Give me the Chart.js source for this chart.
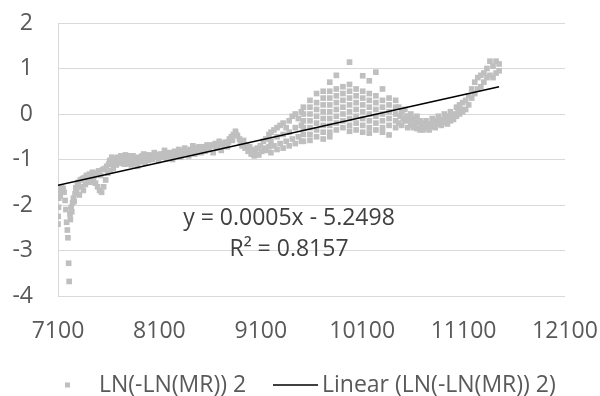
<!DOCTYPE html>
<html>
<head>
<meta charset="utf-8">
<script src="https://cdn.jsdelivr.net/npm/chart.js@4.4.1/dist/chart.umd.min.js"></script>
<style>
html, body { margin: 0; padding: 0; background: #fff; }
#wrap { width: 600px; height: 396px; }
</style>
</head>
<body>
<div id="wrap"><canvas id="mrChart" width="600" height="396"></canvas></div>
<script>
// axis ticks
var xTicks = [7100, 8100, 9100, 10100, 11100, 12100];
var yTicks = [-4, -3, -2, -1, 0, 1, 2];

// LN(-LN(MR)) 2 - single points
var xValues = [
	7100,7102,7105,7108,7112,7118,7122,7128,7135,7142,7150,7160,7170,7178,7185,7192,7198,7205,7210,7218,7222,7230,7236,7244,7252,7260,7268,7276,7284,7292,
	7300,7310,7320,7330,7340,7350,7360,7370,7380,7390,7400,7410,7420,7430,7440,7450,7460,7470,7480,7490,7500,7510,7520,7530,7540,7550,7560,7570,7580,7590,
	7600,7615,7630,7645,7660,7675,7690,7705,7720,7735,7750,7765,7780,7795,7810,7825,7840,7855,7870,7885,7900,7915,7930,7945,7960,7975,7990,
	7610,7630,7650,7670,7690,7710,7730,7750,7770,7790,7810,7830,7850,7870,7890,7910,7930,7950,7970,7990,
	8010,8030,8050,8070,8090,8110,8130,8150,8170,8190,8210,8230,8250,8270,8290,8310,8330,8350,8370,8390,8410,8430,8450,8470,8490,8510,8530,8550,8570,8590,8610,8630,8650,8670,8690,8710,8730,8750,8770,8790,8810,8830,8850,8870,8890,
	8020,8060,8100,8140,8180,8220,8260,8300,8340,8380,8420,8460,8500,8540,8580,8620,8660,8700,8740,8780,8820,8860,
	8900,8915,8930,8945,8960,8975,8990,9005,9020,9035,9050,9065,9080,9095,9110,9125,9140,
	9150,9150,9180,9180,9200,9200,9200,9230,9230,9260,9260,9260,9290,9290,9320,9320,9320,9350,9350,9380,9380,9380,9410,9410,9440,9440,9440,9470,9470,9500,9500,9500,
	10460,10460,10490,10490,10520,10520,10550,10550,10580,10580,10610,10610,10640,10640,10670,10670,10700,10700,10730,10730,10760,10760,10790,10790,10820,10820,10850,10850,10880,10880,10910,10910,10940,10940,10970,10970,11000,11000,11030,11030,11060,11060,11090,11090,
	10475,10505,10535,10565,10595,10625,10655,10685,10715,10745,10775,10805,10835,10865,10895,10925,10955,10985,11015,11045,11075,
	11120,11120,11150,11150,11180,11180,11210,11210,11240,11240,11270,11270,11300,11300,11330,11330,11360,11360,11390,11390,11420,11420,11450,11450
];
var yValues = [
	-2.42,-2.25,-2.05,-1.85,-1.72,-1.62,-1.8,-1.68,-1.6,-1.7,-1.64,-1.72,-1.9,-2.1,-2.38,-2.55,-2.72,-3.28,-3.68,-2.2,-2.32,-2.05,-2.15,-1.95,-1.85,-1.92,-1.75,-1.62,-1.7,-1.55,
	-1.5,-1.78,-1.45,-1.6,-1.42,-1.68,-1.4,-1.55,-1.35,-1.48,-1.4,-1.32,-1.5,-1.38,-1.28,-1.45,-1.35,-1.52,-1.3,-1.6,-1.25,-1.68,-1.35,-1.72,-1.22,-1.6,-1.2,-1.45,-1.15,-1.3,
	-1.1,-1.25,-1.05,-1.2,-0.98,-1.12,-0.95,-1.05,-0.92,-1.08,-1.0,-0.9,-1.1,-0.95,-1.02,-1.12,-0.92,-1.05,-0.98,-1.15,-0.95,-1.05,-1.0,-0.88,-1.08,-0.95,-1.02,
	-1.02,-0.95,-1.1,-1.0,-1.08,-0.98,-1.0,-1.1,-0.97,-1.05,-0.92,-1.0,-0.98,-1.08,-0.96,-1.0,-0.92,-1.02,-0.9,-0.96,
	-0.9,-1.0,-0.85,-0.95,-1.02,-0.88,-0.95,-0.8,-0.98,-0.9,-0.85,-1.0,-0.82,-0.92,-0.78,-0.95,-0.88,-0.75,-0.85,-0.92,-0.78,-0.7,-0.88,-0.8,-0.72,-0.85,-0.75,-0.82,-0.68,-0.78,-0.7,-0.85,-0.65,-0.75,-0.6,-0.8,-0.7,-0.62,-0.72,-0.55,-0.5,-0.45,-0.38,-0.48,-0.55,
	-0.95,-0.9,-0.95,-0.88,-0.85,-0.92,-0.86,-0.85,-0.8,-0.8,-0.82,-0.75,-0.78,-0.72,-0.75,-0.68,-0.72,-0.66,-0.65,-0.62,-0.58,-0.45,
	-0.62,-0.7,-0.58,-0.75,-0.68,-0.82,-0.72,-0.88,-0.78,-0.92,-0.85,-0.75,-0.9,-0.7,-0.82,-0.6,-0.75,
	-0.55,-0.8,-0.45,-0.72,-0.4,-0.85,-0.6,-0.35,-0.7,-0.3,-0.78,-0.5,-0.25,-0.65,-0.2,-0.75,-0.45,-0.3,-0.6,-0.15,-0.7,-0.4,-0.05,-0.55,0.0,-0.65,-0.3,-0.1,-0.5,0.05,-0.6,-0.25,
	0.15,-0.2,0.05,-0.25,0.1,-0.15,-0.05,-0.3,0.0,-0.25,-0.1,-0.3,-0.05,-0.32,-0.15,-0.35,-0.2,-0.35,-0.15,-0.3,-0.22,-0.35,-0.1,-0.28,-0.15,-0.3,-0.05,-0.2,-0.12,-0.25,0.0,-0.18,-0.05,-0.22,0.05,-0.15,0.0,-0.12,0.15,-0.05,0.2,0.0,0.25,0.05,
	-0.05,-0.1,-0.05,-0.15,-0.12,-0.2,-0.18,-0.25,-0.28,-0.22,-0.25,-0.2,-0.22,-0.15,-0.18,-0.1,-0.12,-0.05,-0.05,0.05,0.1,
	0.3,0.1,0.4,0.2,0.55,0.35,0.7,0.45,0.8,0.55,0.85,0.6,0.9,0.7,1.0,0.8,1.16,0.85,1.05,0.8,1.16,0.9,1.1,0.95
];

// the wide part (9500 - 10450) comes in vertical streaks
var columnX = [9520, 9585, 9650, 9715, 9780, 9845, 9910, 9975, 10040, 10105, 10170, 10235, 10300, 10365, 10430];
var columnY = [
	[0.15,0.0,-0.15,-0.3,-0.45,-0.6],
	[0.3,0.15,0.0,-0.15,-0.3,-0.45,-0.58],
	[0.45,0.25,0.1,-0.05,-0.2,-0.35,-0.5],
	[0.5,0.35,0.2,0.05,-0.1,-0.25,-0.4,-0.55],
	[0.7,0.5,0.35,0.2,0.05,-0.1,-0.25,-0.4,-0.5],
	[0.85,0.55,0.4,0.25,0.1,-0.05,-0.2,-0.35],
	[0.6,0.45,0.3,0.15,0.0,-0.15,-0.3],
	[1.14,0.65,0.5,0.35,0.2,0.05,-0.1,-0.25,-0.38],
	[0.55,0.4,0.25,0.1,-0.05,-0.2,-0.35],
	[0.84,0.5,0.35,0.2,0.05,-0.1,-0.25,-0.4],
	[0.73,0.45,0.3,0.15,0.0,-0.15,-0.3,-0.42],
	[0.92,0.4,0.25,0.1,-0.05,-0.2,-0.35],
	[0.55,0.3,0.15,0.0,-0.15,-0.3,-0.4],
	[0.35,0.2,0.05,-0.1,-0.25,-0.46],
	[0.3,0.15,0.0,-0.15,-0.3]
];

var seriesName = 'LN(-LN(MR)) 2';
var trendName = 'Linear (LN(-LN(MR)) 2)';
var trendLines = ['y = 0.0005x - 5.2498', 'R\u00B2 = 0.8157'];

var fontFamily = "'Open Sans', sans-serif";
var fontSize = 23;

function buildPoints() {
	var pts = [];
	if (xValues.length != yValues.length) console.error('x/y length mismatch', xValues.length, yValues.length);
	for (var i = 0; i < xValues.length; i++) pts.push({x: xValues[i], y: yValues[i]});
	columnX.forEach(function (cx, i) {
		columnY[i].forEach(function (cy) { pts.push({x: cx, y: cy}); });
	});
	return pts;
}

// least squares line through the points, from first to last x
function buildTrend(pts) {
	var n = pts.length, sx = 0, sy = 0, sxx = 0, sxy = 0, minX = Infinity, maxX = -Infinity;
	pts.forEach(function (p) {
		sx += p.x; sy += p.y; sxx += p.x * p.x; sxy += p.x * p.y;
		if (p.x < minX) minX = p.x;
		if (p.x > maxX) maxX = p.x;
	});
	var slope = (n * sxy - sx * sy) / (n * sxx - sx * sx);
	var icpt = (sy - slope * sx) / n;
	return [{x: minX, y: slope * minX + icpt}, {x: maxX, y: slope * maxX + icpt}];
}

var textPlugin = {
	id: 'trendText',
	afterDraw: function (chart) {
		var ctx = chart.ctx;
		ctx.save();
		ctx.font = fontSize + 'px ' + fontFamily;
		ctx.textBaseline = 'middle';
		ctx.textAlign = 'center';
		ctx.fillStyle = '#404040';
		ctx.fillText(trendLines[0], 289, 218);
		ctx.fillText(trendLines[1], 289, 249);

		// legend
		var ly = 385;
		ctx.fillStyle = '#bfbfbf';
		ctx.fillRect(65, ly - 2.5, 5, 5);
		ctx.strokeStyle = '#000';
		ctx.lineWidth = 1.5;
		ctx.beginPath();
		ctx.moveTo(273, ly);
		ctx.lineTo(318, ly);
		ctx.stroke();
		ctx.textAlign = 'left';
		ctx.fillStyle = '#595959';
		ctx.fillText(seriesName, 99, ly);
		ctx.fillText(trendName, 322, ly);
		ctx.restore();
	}
};

Chart.defaults.font.family = fontFamily;
Chart.defaults.font.size = fontSize;
Chart.defaults.color = '#595959';

var points = buildPoints();
var ctx = document.getElementById('mrChart').getContext('2d');
var mrChart = new Chart(ctx, {
	type: 'scatter',
	data: {
		datasets: [{
			type: 'line',
			label: trendName,
			data: buildTrend(points),
			borderColor: '#000000',
			borderWidth: 1.5,
			pointRadius: 0,
			fill: false,
			order: 0
		}, {
			label: seriesName,
			data: points,
			pointStyle: 'rect',
			pointRadius: 4,
			pointBorderWidth: 0,
			backgroundColor: '#bfbfbf',
			borderColor: '#bfbfbf',
			order: 1
		}]
	},
	options: {
		responsive: false,
		animation: false,
		layout: { padding: { left: 0, right: 35, top: 23, bottom: 0 } },
		plugins: { legend: { display: false }, tooltip: { enabled: false } },
		scales: {
			x: {
				type: 'linear',
				min: xTicks[0],
				max: xTicks[xTicks.length - 1],
				afterBuildTicks: function (axis) { axis.ticks = xTicks.map(function (v) { return {value: v}; }); },
				afterFit: function (axis) { axis.height = 100; },
				grid: { display: false, drawTicks: true, tickLength: 22 },
				border: { display: false },
				ticks: { padding: 0, color: '#595959', callback: function (v) { return String(v); } }
			},
			y: {
				min: yTicks[0],
				max: yTicks[yTicks.length - 1],
				afterBuildTicks: function (axis) { axis.ticks = yTicks.map(function (v) { return {value: v}; }); },
				afterFit: function (axis) { axis.width = 58; },
				grid: { color: '#d9d9d9', lineWidth: 1, drawTicks: true, tickLength: 25, tickColor: 'rgba(0,0,0,0)' },
				border: { display: true, color: '#d9d9d9', width: 1 },
				ticks: { padding: 0, color: '#595959', callback: function (v) { return String(v); } }
			}
		}
	},
	plugins: [textPlugin]
});
</script>
</body>
</html>
